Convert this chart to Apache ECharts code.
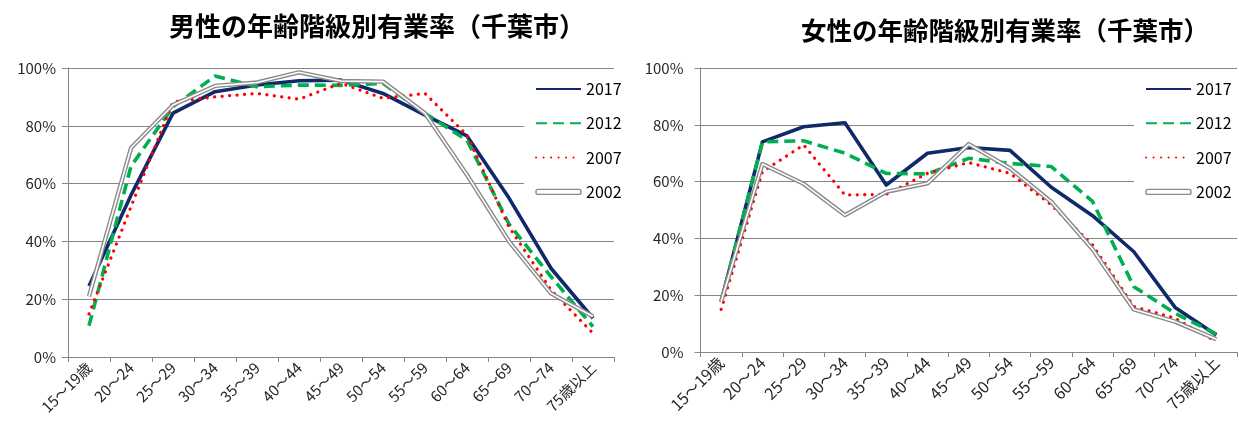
<!DOCTYPE html>
<html><head><meta charset="utf-8">
<script src="https://cdn.jsdelivr.net/npm/echarts@6/dist/echarts.min.js"></script>
<style>html,body{margin:0;padding:0;background:#fff;}#c{width:1239px;height:434px;}</style>
</head><body><div id="c"></div>
<script>
const categories = ['15～19歳','20～24','25～29','30～34','35～39','40～44','45～49','50～54','55～59','60～64','65～69','70～74','75歳以上'];
const years = ['2017','2012','2007','2002'];
const yTicks = [0,20,40,60,80,100];

const male2017 = [24.6, 56, 84.4, 91.8, 94.1, 95.6, 95.8, 91.2, 83.7, 76.5, 55, 30.7, 13.4];
const male2012 = [10.8, 66, 86.6, 97.2, 93.5, 94.1, 94, 94.7, 84.3, 75, 46, 27.8, 10.5];
const male2007 = [14.9, 52, 88.3, 90, 91.2, 89.2, 94.7, 89.5, 91.2, 76.8, 45, 23.2, 8.2];
const male2002 = [21, 72.3, 87.2, 93.8, 95, 98.5, 95.5, 95.3, 84.3, 63, 40, 22, 14];

const female2017 = [17.7, 74, 79.3, 80.7, 58.8, 70, 72, 71, 58, 48, 35.3, 15.7, 6];
const female2012 = [17.7, 74, 74.4, 70, 62.9, 62.7, 68.2, 66.4, 65.3, 53, 23, 13.6, 6.3];
const female2007 = [15, 63.5, 72.9, 55.3, 55.5, 62.9, 66.7, 62.9, 51.8, 37.7, 16, 11.9, 3.6];
const female2002 = [17.7, 66.2, 59.2, 48.2, 56.4, 59.4, 73.2, 64.7, 52.9, 36.2, 15, 10.7, 4.5];

const titles = ['男性の年齢階級別有業率（千葉市）','女性の年齢階級別有業率（千葉市）'];

const FONT = '"Noto Sans CJK JP", sans-serif';
const AX = '#868686';
const TXT = '#262626';
const NAVY = '#10296b', GREEN = '#00b050', RED = '#ff0000', GRAY = '#8a8a8a';

const grids = [
  {left: 68, right: 625, top: 68, bottom: 77},
  {left: 700.5, right: 2, top: 68, bottom: 82}
];

function xAxis(i, fs){
  return {type:'category', gridIndex:i, data:categories, boundaryGap:true,
    axisLine:{lineStyle:{color:AX,width:1}},
    axisTick:{show:true,length:5,lineStyle:{color:AX}, alignWithLabel:false},
    axisLabel:{rotate:45, interval:0, margin:8, fontSize:fs, color:TXT, fontFamily:FONT}};
}
function yAxis(i, m){
  return {type:'value', gridIndex:i, min:yTicks[0], max:yTicks[yTicks.length-1], interval:20,
    axisLine:{show:true, lineStyle:{color:AX,width:1}},
    axisTick:{show:true,length:6,lineStyle:{color:AX}},
    splitLine:{show:true,lineStyle:{color:AX,width:1}},
    axisLabel:{formatter:'{value}%', fontSize:15, color:TXT, fontFamily:FONT, margin:m}};
}
function seriesFor(i, d17, d12, d07, d02){
  const base = {type:'line', xAxisIndex:i, yAxisIndex:i, symbol:'none', showSymbol:false, silent:true, animation:false, itemStyle:{opacity:0}};
  return [
    Object.assign({}, base, {name:'2017', data:d17, z:2, lineStyle:{color:NAVY, width:3.6, join:'round'}}),
    Object.assign({}, base, {name:'2012', data:d12, z:3, lineStyle:{color:GREEN, width:3.6, type:[11,6]}}),
    Object.assign({}, base, {name:'2007', data:d07, z:4, lineStyle:{color:RED, width:3.2, type:[0.1,7.4], cap:'round'}}),
    Object.assign({}, base, {name:'2002', data:d02, z:5, lineStyle:{color:GRAY, width:4.4, join:'round'}}),
    Object.assign({}, base, {name:'2002inner', data:d02, z:6, lineStyle:{color:'#ffffff', width:1.6, join:'round'}})
  ];
}
const legendIcon2002 = 'path://M2,0 L43,0 Q45,0 45,2 L45,3 Q45,5 43,5 L2,5 Q0,5 0,3 L0,2 Q0,0 2,0 Z';
function legend(i, left){
  return {gridIndex:i, orient:'vertical', left:left, top:70, padding:[11,14,11,11],
    backgroundColor:'#ffffff', itemWidth:45, itemHeight:14, itemGap:18.3, selectedMode:false,
    itemStyle:{opacity:0},
    textStyle:{fontSize:16, color:'#000', fontFamily:FONT, lineHeight:14},
    data:[{name:'2017'}, {name:'2012'}, {name:'2007'},
      {name:'2002', icon:legendIcon2002, itemStyle:{opacity:1, color:'#ffffff', borderColor:GRAY, borderWidth:1.4}}]};
}

const chart = echarts.init(document.getElementById('c'), null, {renderer:'canvas'});
chart.setOption({
  animation:false,
  backgroundColor:'#ffffff',
  title:[
    {text:titles[0], left:372, top:8, textAlign:'center', textStyle:{fontSize:26, fontWeight:'bold', color:'#000', fontFamily:FONT}},
    {text:titles[1], left:1000, top:13, textAlign:'center', textStyle:{fontSize:25.5, fontWeight:'bold', color:'#000', fontFamily:FONT}}
  ],
  grid:grids,
  xAxis:[xAxis(0,15), xAxis(1,16)],
  yAxis:[yAxis(0,12), yAxis(1,17)],
  legend:[legend(0,524), legend(1,1134)],
  series:[].concat(seriesFor(0, male2017, male2012, male2007, male2002), seriesFor(1, female2017, female2012, female2007, female2002))
});
</script></body></html>
